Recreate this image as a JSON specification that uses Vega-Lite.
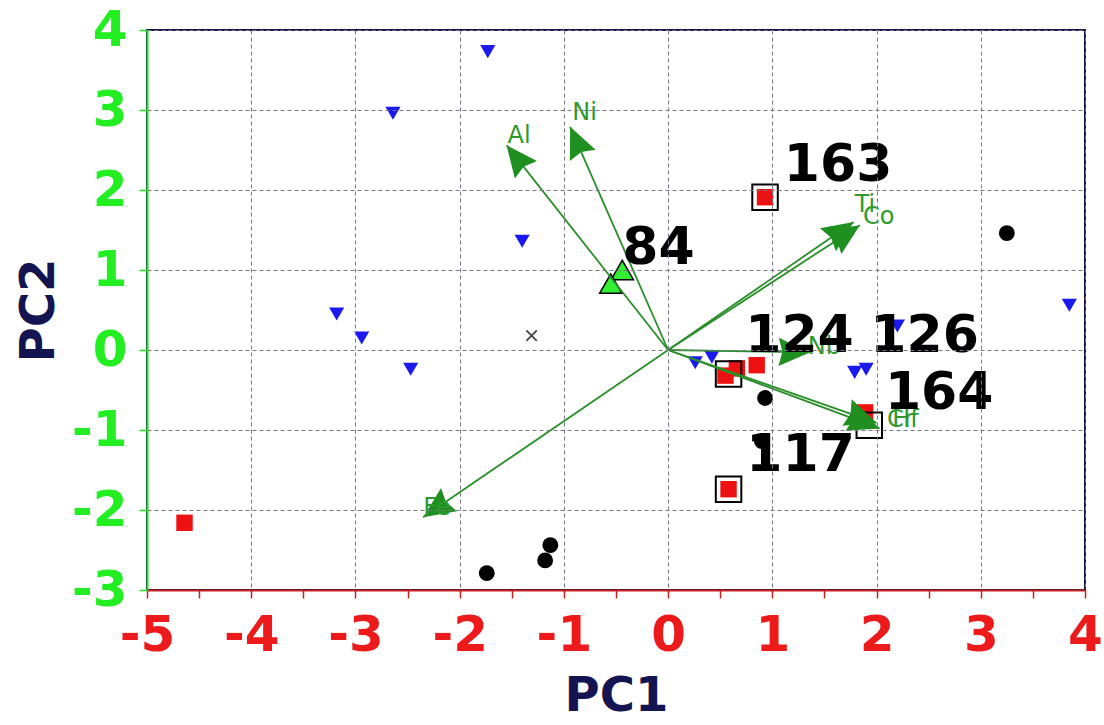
{
  "$schema": "https://vega.github.io/schema/vega-lite/v6.json",
  "width": 938,
  "height": 560,
  "autosize": {"type": "none"},
  "padding": {"left": 147, "top": 30, "right": 19, "bottom": 135},
  "background": "white",
  "config": {"view": {"stroke": "#14144a", "strokeWidth": 2}, "font": "DejaVu Sans"},
  "datasets": {
    "scores": [
      {"pc1": -1.73, "pc2": 3.73, "grp": "a"},
      {"pc1": -2.64, "pc2": 2.96, "grp": "a"},
      {"pc1": -1.40, "pc2": 1.36, "grp": "a"},
      {"pc1": -3.18, "pc2": 0.45, "grp": "a"},
      {"pc1": -2.94, "pc2": 0.15, "grp": "a"},
      {"pc1": -2.47, "pc2": -0.24, "grp": "a"},
      {"pc1": 0.26, "pc2": -0.16, "grp": "a"},
      {"pc1": 0.42, "pc2": -0.09, "grp": "a"},
      {"pc1": 1.79, "pc2": -0.28, "grp": "a"},
      {"pc1": 1.90, "pc2": -0.24, "grp": "a"},
      {"pc1": 2.20, "pc2": 0.30, "grp": "a"},
      {"pc1": 3.85, "pc2": 0.56, "grp": "a"},
      {"pc1": 3.25, "pc2": 1.46, "grp": "b"},
      {"pc1": 0.93, "pc2": -0.60, "grp": "b"},
      {"pc1": 0.90, "pc2": -1.14, "grp": "b"},
      {"pc1": -1.13, "pc2": -2.44, "grp": "b"},
      {"pc1": -1.18, "pc2": -2.63, "grp": "b"},
      {"pc1": -1.74, "pc2": -2.79, "grp": "b"},
      {"pc1": -4.64, "pc2": -2.16, "grp": "c"},
      {"pc1": 0.93, "pc2": 1.91, "grp": "c"},
      {"pc1": 0.55, "pc2": -0.32, "grp": "c"},
      {"pc1": 0.66, "pc2": -0.23, "grp": "c"},
      {"pc1": 0.85, "pc2": -0.19, "grp": "c"},
      {"pc1": 0.58, "pc2": -1.74, "grp": "c"},
      {"pc1": 1.89, "pc2": -0.78, "grp": "c"}
    ],
    "tri": [
      {"pc1": -0.44, "pc2": 1.0},
      {"pc1": -0.55, "pc2": 0.83}
    ],
    "cross": [
      {"pc1": -1.31, "pc2": 0.18}
    ],
    "boxes": [
      {"pc1": 0.93, "pc2": 1.91},
      {"pc1": 0.58, "pc2": -0.30},
      {"pc1": 0.58, "pc2": -1.74},
      {"pc1": 1.93, "pc2": -0.94}
    ],
    "loadings": [
      {"var": "Al", "pc1": -1.55, "pc2": 2.56, "o1": 0, "o2": 0},
      {"var": "Ni", "pc1": -0.94, "pc2": 2.79, "o1": 0, "o2": 0},
      {"var": "Ti", "pc1": 1.78, "pc2": 1.60, "o1": 0, "o2": 0},
      {"var": "Co", "pc1": 1.84, "pc2": 1.56, "o1": 0, "o2": 0},
      {"var": "Nb", "pc1": 1.36, "pc2": -0.03, "o1": 0, "o2": 0},
      {"var": "Cr", "pc1": 2.03, "pc2": -0.98, "o1": 0, "o2": 0},
      {"var": "Hf", "pc1": 2.00, "pc2": -0.91, "o1": 0, "o2": 0},
      {"var": "Fe", "pc1": -2.35, "pc2": -2.09, "o1": 0, "o2": 0}
    ],
    "varlabels": [
      {"var": "Al", "pc1": -1.54, "pc2": 2.68},
      {"var": "Ni", "pc1": -0.92, "pc2": 2.96},
      {"var": "Ti", "pc1": 1.79, "pc2": 1.81},
      {"var": "Co", "pc1": 1.87, "pc2": 1.66},
      {"var": "Nb", "pc1": 1.34, "pc2": 0.04},
      {"var": "Cr", "pc1": 2.10, "pc2": -0.88},
      {"var": "Hf", "pc1": 2.15, "pc2": -0.88},
      {"var": "Fe", "pc1": -2.35, "pc2": -1.98}
    ],
    "obslabels": [
      {"id": "163", "pc1": 1.11, "pc2": 2.31},
      {"id": "84", "pc1": -0.44, "pc2": 1.28},
      {"id": "124", "pc1": 0.74, "pc2": 0.18},
      {"id": "126", "pc1": 1.94, "pc2": 0.18},
      {"id": "164", "pc1": 2.08, "pc2": -0.54},
      {"id": "117", "pc1": 0.75, "pc2": -1.31}
    ]
  },
  "layer": [
    {
      "data": {"name": "scores"},
      "mark": {"type": "point", "filled": true, "opacity": 1},
      "encoding": {
        "x": {
          "field": "pc1", "type": "quantitative",
          "scale": {"domain": [-5, 4], "nice": false, "zero": false},
          "axis": {
            "title": "PC1",
            "zindex": 1,
            "values": [-5, -4.5, -4, -3.5, -3, -2.5, -2, -1.5, -1, -0.5, 0, 0.5, 1, 1.5, 2, 2.5, 3, 3.5, 4],
            "labelExpr": "datum.value % 1 == 0 ? toString(datum.value) : ''",
            "labelFontSize": 50, "labelFontWeight": "bold", "labelColor": "#ec1a1a",
            "labelPadding": 12, "labelFlush": false, "labelOverlap": false,
            "domainColor": "#c82020", "domainWidth": 2,
            "tickColor": "#c82020", "tickWidth": 1.5, "tickSize": 8,
            "grid": true, "gridColor": "#777788", "gridDash": [4, 3], "gridWidth": 1,
            "gridOpacity": {"condition": {"test": "datum.value % 1 != 0", "value": 0}, "value": 1},
            "titleFontSize": 48, "titleFontWeight": "bold", "titleColor": "#141450", "titlePadding": 12
          }
        },
        "y": {
          "field": "pc2", "type": "quantitative",
          "scale": {"domain": [-3, 4], "nice": false, "zero": false},
          "axis": {
            "title": "PC2",
            "zindex": 1,
            "values": [-3, -2.5, -2, -1.5, -1, -0.5, 0, 0.5, 1, 1.5, 2, 2.5, 3, 3.5, 4],
            "labelExpr": "datum.value % 1 == 0 ? toString(datum.value) : ''",
            "labelFontSize": 50, "labelFontWeight": "bold", "labelColor": "#22ee22",
            "labelPadding": 12, "labelFlush": false, "labelOverlap": false,
            "domainColor": "#22dd22", "domainWidth": 2,
            "tickColor": "#22dd22", "tickWidth": 1.5, "tickSize": 8,
            "grid": true, "gridColor": "#777788", "gridDash": [4, 3], "gridWidth": 1,
            "gridOpacity": {"condition": {"test": "datum.value % 1 != 0", "value": 0}, "value": 1},
            "titleFontSize": 48, "titleFontWeight": "bold", "titleColor": "#141450", "titlePadding": 8
          }
        },
        "shape": {"field": "grp", "type": "nominal", "scale": {"domain": ["a", "b", "c"], "range": ["triangle-down", "circle", "square"]}, "legend": null},
        "color": {"field": "grp", "type": "nominal", "scale": {"domain": ["a", "b", "c"], "range": ["#1a1aee", "#000000", "#ee1111"]}, "legend": null},
        "size": {"field": "grp", "type": "nominal", "scale": {"domain": ["a", "b", "c"], "range": [230, 270, 220]}, "legend": null}
      }
    },
    {
      "data": {"name": "boxes"},
      "mark": {"type": "point", "shape": "square", "filled": false, "stroke": "#000000", "strokeWidth": 2, "size": 650, "opacity": 1},
      "encoding": {
        "x": {"field": "pc1", "type": "quantitative"},
        "y": {"field": "pc2", "type": "quantitative"}
      }
    },
    {
      "data": {"name": "tri"},
      "mark": {"type": "point", "shape": "triangle-up", "filled": true, "fill": "#33ee33", "stroke": "#000000", "strokeWidth": 1.5, "size": 500, "opacity": 1},
      "encoding": {
        "x": {"field": "pc1", "type": "quantitative"},
        "y": {"field": "pc2", "type": "quantitative"}
      }
    },
    {
      "data": {"name": "cross"},
      "mark": {"type": "point", "shape": "M-1,-1L1,1M-1,1L1,-1", "filled": false, "stroke": "#444444", "strokeWidth": 1.8, "size": 110, "opacity": 1},
      "encoding": {
        "x": {"field": "pc1", "type": "quantitative"},
        "y": {"field": "pc2", "type": "quantitative"}
      }
    },
    {
      "data": {"name": "loadings"},
      "mark": {"type": "rule", "color": "#2a8f2a", "strokeWidth": 1.8},
      "encoding": {
        "x": {"field": "o1", "type": "quantitative"},
        "y": {"field": "o2", "type": "quantitative"},
        "x2": {"field": "pc1"},
        "y2": {"field": "pc2"}
      }
    },
    {
      "data": {"name": "loadings"},
      "transform": [{"calculate": "atan2(datum.pc1 * 104.2, datum.pc2 * 80) * 180 / PI", "as": "ang"}],
      "mark": {"type": "point", "shape": "M0,0L-0.45,1L0,0.88L0.45,1Z", "filled": true, "color": "#1f8f1f", "size": 3900, "opacity": 1},
      "encoding": {
        "x": {"field": "pc1", "type": "quantitative"},
        "y": {"field": "pc2", "type": "quantitative"},
        "angle": {"field": "ang", "type": "quantitative", "scale": null}
      }
    },
    {
      "data": {"name": "varlabels"},
      "mark": {"type": "text", "align": "left", "baseline": "middle", "fontSize": 24, "color": "#2e9a2e", "font": "DejaVu Sans"},
      "encoding": {
        "x": {"field": "pc1", "type": "quantitative"},
        "y": {"field": "pc2", "type": "quantitative"},
        "text": {"field": "var"}
      }
    },
    {
      "data": {"name": "obslabels"},
      "mark": {"type": "text", "align": "left", "baseline": "middle", "fontSize": 52, "fontWeight": "bold", "color": "#000000", "font": "DejaVu Sans"},
      "encoding": {
        "x": {"field": "pc1", "type": "quantitative"},
        "y": {"field": "pc2", "type": "quantitative"},
        "text": {"field": "id"}
      }
    }
  ]
}
